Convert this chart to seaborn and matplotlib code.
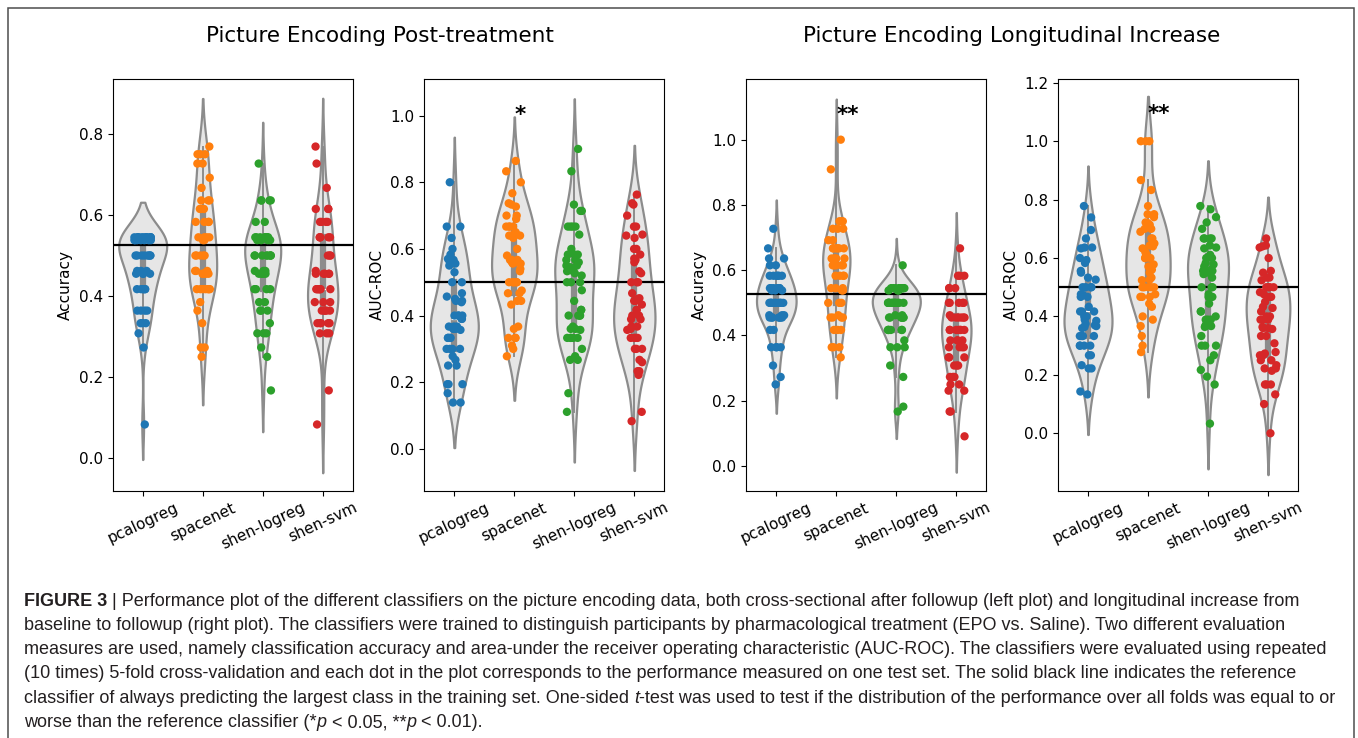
import numpy as np
import pandas as pd
import matplotlib
matplotlib.use('Agg')
import matplotlib.pyplot as plt
import seaborn as sns
from matplotlib.patches import Rectangle

W, H = 1358, 738
CLASSIFIERS = ['pcalogreg', 'spacenet', 'shen-logreg', 'shen-svm']

# ---- Post-treatment accuracy: accuracy levels and number of folds at each level
post_acc_pcalogreg_lv = [0.545, 0.538, 0.5, 0.462, 0.455, 0.417, 0.364, 0.333, 0.308, 0.273, 0.083]
post_acc_pcalogreg_n = [12, 7, 8, 3, 4, 6, 4, 3, 1, 1, 1]
post_acc_spacenet_lv = [0.769, 0.75, 0.727, 0.692, 0.667, 0.636, 0.615, 0.583, 0.545, 0.538,
                        0.5, 0.462, 0.455, 0.417, 0.385, 0.364, 0.333, 0.273, 0.25]
post_acc_spacenet_n = [1, 3, 2, 1, 1, 3, 3, 4, 4, 2, 5, 3, 5, 7, 1, 1, 1, 2, 1]
post_acc_shenlog_lv = [0.727, 0.636, 0.583, 0.545, 0.538, 0.5, 0.462, 0.455, 0.417, 0.385,
                       0.364, 0.333, 0.308, 0.273, 0.25, 0.167]
post_acc_shenlog_n = [1, 4, 2, 8, 4, 8, 3, 4, 4, 2, 3, 1, 3, 1, 1, 1]
post_acc_shensvm_lv = [0.769, 0.727, 0.667, 0.615, 0.583, 0.545, 0.5, 0.462, 0.455, 0.417,
                       0.385, 0.364, 0.333, 0.308, 0.167, 0.083]
post_acc_shensvm_n = [1, 1, 1, 3, 4, 5, 3, 1, 5, 8, 3, 5, 5, 3, 1, 1]

# ---- Longitudinal accuracy
long_acc_pcalogreg_lv = [0.727, 0.667, 0.636, 0.615, 0.583, 0.545, 0.538, 0.5, 0.462, 0.455,
                         0.417, 0.364, 0.308, 0.273, 0.25]
long_acc_pcalogreg_n = [1, 1, 2, 2, 6, 6, 3, 10, 3, 7, 2, 4, 1, 1, 1]
long_acc_spacenet_lv = [1.0, 0.909, 0.75, 0.727, 0.692, 0.667, 0.636, 0.615, 0.583, 0.545,
                        0.538, 0.5, 0.462, 0.455, 0.417, 0.364, 0.333]
long_acc_spacenet_n = [1, 1, 3, 3, 2, 6, 5, 5, 4, 3, 2, 3, 1, 4, 3, 3, 1]
long_acc_shenlog_lv = [0.615, 0.545, 0.538, 0.5, 0.462, 0.455, 0.417, 0.385, 0.364, 0.308,
                       0.273, 0.182, 0.167]
long_acc_shenlog_n = [1, 10, 3, 13, 2, 7, 6, 1, 3, 1, 1, 1, 1]
long_acc_shensvm_lv = [0.667, 0.583, 0.545, 0.5, 0.462, 0.455, 0.417, 0.385, 0.364, 0.333,
                       0.308, 0.273, 0.25, 0.231, 0.167, 0.091]
long_acc_shensvm_n = [1, 3, 3, 5, 1, 6, 7, 4, 4, 3, 3, 3, 2, 2, 2, 1]

# ---- Post-treatment AUC-ROC (one value per test fold)
post_auc_pcalogreg = [0.80, 0.667, 0.667, 0.633, 0.60, 0.583, 0.57, 0.567, 0.56, 0.556, 0.55, 0.53,
                      0.50, 0.50, 0.467, 0.457, 0.45, 0.444, 0.444, 0.44, 0.40, 0.40, 0.40, 0.40,
                      0.39, 0.39, 0.367, 0.367, 0.367, 0.36, 0.357, 0.36, 0.333, 0.333, 0.333,
                      0.333, 0.30, 0.30, 0.30, 0.30, 0.278, 0.267, 0.25, 0.25, 0.194, 0.194,
                      0.194, 0.167, 0.139, 0.139]
post_auc_spacenet = [0.864, 0.833, 0.80, 0.767, 0.737, 0.733, 0.727, 0.70, 0.70, 0.69, 0.667, 0.667,
                     0.667, 0.667, 0.65, 0.643, 0.64, 0.64, 0.633, 0.60, 0.58, 0.567, 0.567, 0.567,
                     0.56, 0.56, 0.556, 0.556, 0.54, 0.533, 0.50, 0.50, 0.50, 0.50, 0.50, 0.50,
                     0.475, 0.467, 0.467, 0.444, 0.444, 0.433, 0.367, 0.36, 0.333, 0.333, 0.333,
                     0.31, 0.30, 0.278]
post_auc_shenlog = [0.90, 0.833, 0.733, 0.714, 0.714, 0.667, 0.667, 0.667, 0.667, 0.643, 0.60, 0.583,
                    0.583, 0.583, 0.567, 0.567, 0.56, 0.55, 0.55, 0.545, 0.533, 0.533, 0.527, 0.52,
                    0.50, 0.50, 0.50, 0.476, 0.444, 0.417, 0.417, 0.40, 0.40, 0.40, 0.40, 0.367,
                    0.36, 0.36, 0.357, 0.333, 0.333, 0.333, 0.333, 0.333, 0.30, 0.278, 0.267,
                    0.267, 0.167, 0.111]
post_auc_shensvm = [0.763, 0.737, 0.733, 0.70, 0.667, 0.667, 0.643, 0.64, 0.633, 0.60, 0.60, 0.583,
                    0.571, 0.567, 0.56, 0.533, 0.527, 0.50, 0.50, 0.50, 0.467, 0.452, 0.45, 0.444,
                    0.444, 0.433, 0.417, 0.417, 0.40, 0.40, 0.389, 0.389, 0.367, 0.367, 0.36,
                    0.357, 0.333, 0.333, 0.333, 0.333, 0.30, 0.30, 0.30, 0.267, 0.26, 0.233,
                    0.233, 0.222, 0.111, 0.083]

# ---- Longitudinal AUC-ROC
long_auc_pcalogreg = [0.778, 0.739, 0.696, 0.667, 0.636, 0.636, 0.633, 0.60, 0.593, 0.583, 0.556, 0.55,
                      0.533, 0.526, 0.50, 0.50, 0.50, 0.50, 0.476, 0.474, 0.467, 0.467, 0.433, 0.417,
                      0.417, 0.417, 0.40, 0.40, 0.389, 0.385, 0.375, 0.37, 0.367, 0.364, 0.36,
                      0.333, 0.333, 0.333, 0.333, 0.30, 0.30, 0.30, 0.30, 0.267, 0.267, 0.233,
                      0.222, 0.222, 0.143, 0.133]
long_auc_spacenet = [1.0, 1.0, 1.0, 0.867, 0.833, 0.778, 0.75, 0.75, 0.74, 0.722, 0.72, 0.714, 0.70,
                     0.70, 0.69, 0.667, 0.667, 0.65, 0.643, 0.64, 0.633, 0.62, 0.611, 0.60, 0.60,
                     0.60, 0.578, 0.571, 0.56, 0.55, 0.533, 0.526, 0.524, 0.50, 0.50, 0.50, 0.50,
                     0.50, 0.476, 0.467, 0.467, 0.467, 0.444, 0.433, 0.40, 0.389, 0.367, 0.333,
                     0.30, 0.278]
long_auc_shenlog = [0.778, 0.767, 0.74, 0.722, 0.70, 0.667, 0.667, 0.667, 0.667, 0.643, 0.636, 0.633,
                    0.611, 0.60, 0.60, 0.583, 0.578, 0.571, 0.56, 0.556, 0.556, 0.55, 0.545, 0.533,
                    0.50, 0.50, 0.50, 0.476, 0.467, 0.467, 0.444, 0.417, 0.417, 0.40, 0.389, 0.389,
                    0.389, 0.37, 0.367, 0.364, 0.333, 0.30, 0.30, 0.30, 0.267, 0.25, 0.217, 0.194,
                    0.167, 0.033]
long_auc_shensvm = [0.667, 0.643, 0.64, 0.636, 0.60, 0.556, 0.55, 0.533, 0.533, 0.524, 0.50, 0.50,
                    0.50, 0.50, 0.483, 0.476, 0.467, 0.467, 0.45, 0.433, 0.429, 0.417, 0.40, 0.40,
                    0.389, 0.389, 0.389, 0.364, 0.36, 0.36, 0.357, 0.333, 0.333, 0.308, 0.278,
                    0.273, 0.267, 0.267, 0.25, 0.25, 0.233, 0.222, 0.222, 0.214, 0.167, 0.167,
                    0.167, 0.133, 0.10, 0.0]

REF_ACC = 0.527   # majority-class accuracy
REF_AUC = 0.5

CAPTION = [
    [("FIGURE 3", "b"), (" | Performance plot of the different classifiers on the picture encoding data, "
                         "both cross-sectional after followup (left plot) and longitudinal increase from", "r")],
    [("baseline to followup (right plot). The classifiers were trained to distinguish participants by "
      "pharmacological treatment (EPO vs. Saline). Two different evaluation", "r")],
    [("measures are used, namely classification accuracy and area-under the receiver operating "
      "characteristic (AUC-ROC). The classifiers were evaluated using repeated", "r")],
    [("(10 times) 5-fold cross-validation and each dot in the plot corresponds to the performance "
      "measured on one test set. The solid black line indicates the reference", "r")],
    [("classifier of always predicting the largest class in the training set. One-sided ", "r"), ("t", "i"),
     ("-test was used to test if the distribution of the performance over all folds was equal to or", "r")],
    [("worse than the reference classifier (*", "r"), ("p", "i"), (" < 0.05, **", "r"), ("p", "i"),
     (" < 0.01).", "r")],
]
CAP_FONT = ['Liberation Sans Narrow', 'Liberation Sans', 'DejaVu Sans']


def acc_group(levels, counts):
    return np.repeat(levels, counts)


def draw_panel(ax, groups, ref, ylim, ylabel, star=None, star_y=None):
    df = pd.DataFrame({
        'classifier': np.repeat(CLASSIFIERS, [len(g) for g in groups]),
        'score': np.concatenate(groups),
    })
    sns.violinplot(data=df, x='classifier', y='score', ax=ax, color='#e6e6e6', saturation=1,
                   linecolor='#8c8c8c', linewidth=1.6, cut=2, inner='box',
                   inner_kws=dict(box_width=4.5, whis_width=1.4))
    ax.axhline(ref, color='black', lw=1.6, zorder=3)
    sns.stripplot(data=df, x='classifier', y='score', hue='classifier', palette='tab10',
                  ax=ax, jitter=0.14, size=6, legend=False, zorder=4)
    ax.set_ylim(*ylim)
    ax.set_xlim(-0.5, 3.5)
    ax.set_xlabel('')
    ax.set_ylabel(ylabel, fontsize=11)
    ax.tick_params(axis='both', labelsize=11)
    ax.tick_params(axis='x', rotation=25)
    if star:
        ax.text(1.0, star_y, star, fontsize=15.5, fontweight='bold', ha='left', va='baseline',
                zorder=5)


def caption_line(fig, renderer, x_px, y_px, parts, size):
    for text, style in parts:
        kw = dict(fontsize=size, family=CAP_FONT, color='#231f20')
        if style == 'b':
            kw['fontweight'] = 'bold'
        if style == 'i':
            kw['fontstyle'] = 'italic'
        fig.text(x_px / W, 1 - y_px / H, text, ha='left', va='baseline', **kw)
        # advance = width of text followed by a bar, minus the bar (keeps trailing spaces)
        probe = fig.text(0, 0, text + '|', **kw)
        bar = fig.text(0, 0, '|', **kw)
        adv = probe.get_window_extent(renderer).width - bar.get_window_extent(renderer).width
        probe.remove()
        bar.remove()
        x_px += adv


def main():
    np.random.seed(4)
    fig = plt.figure(figsize=(W / 100, H / 100), dpi=100)

    lefts = [112.7, 424.3, 746.3, 1058.0]
    axes = [fig.add_axes([l / W, 1 - 490.5 / H, 240 / W, 411.2 / H]) for l in lefts]

    post_acc = [acc_group(post_acc_pcalogreg_lv, post_acc_pcalogreg_n),
                acc_group(post_acc_spacenet_lv, post_acc_spacenet_n),
                acc_group(post_acc_shenlog_lv, post_acc_shenlog_n),
                acc_group(post_acc_shensvm_lv, post_acc_shensvm_n)]
    long_acc = [acc_group(long_acc_pcalogreg_lv, long_acc_pcalogreg_n),
                acc_group(long_acc_spacenet_lv, long_acc_spacenet_n),
                acc_group(long_acc_shenlog_lv, long_acc_shenlog_n),
                acc_group(long_acc_shensvm_lv, long_acc_shensvm_n)]
    post_auc = [post_auc_pcalogreg, post_auc_spacenet, post_auc_shenlog, post_auc_shensvm]
    long_auc = [long_auc_pcalogreg, long_auc_spacenet, long_auc_shenlog, long_auc_shensvm]

    draw_panel(axes[0], post_acc, REF_ACC, (-0.08, 0.935), 'Accuracy')
    draw_panel(axes[1], post_auc, REF_AUC, (-0.125, 1.109), 'AUC-ROC', '*', 0.985)
    draw_panel(axes[2], long_acc, REF_ACC, (-0.075, 1.185), 'Accuracy', '**', 1.058)
    draw_panel(axes[3], long_auc, REF_AUC, (-0.196, 1.212), 'AUC-ROC', '**', 1.072)

    fig.text(380 / W, 1 - 42 / H, 'Picture Encoding Post-treatment', fontsize=15.5,
             ha='center', va='baseline')
    fig.text(1012 / W, 1 - 42 / H, 'Picture Encoding Longitudinal Increase', fontsize=15.5,
             ha='center', va='baseline')

    renderer = fig.canvas.get_renderer()
    for i, parts in enumerate(CAPTION):
        caption_line(fig, renderer, 24, 605.5 + i * 24.3, parts, 13)

    fig.patches.append(Rectangle((7.5 / W, -0.02), (1354 - 7.5) / W, 1.02 - 7.5 / H,
                                 transform=fig.transFigure, fill=False,
                                 edgecolor='#4d4d4d', lw=1.1))

    fig.savefig('out.png', dpi=100)


if __name__ == '__main__':
    main()
